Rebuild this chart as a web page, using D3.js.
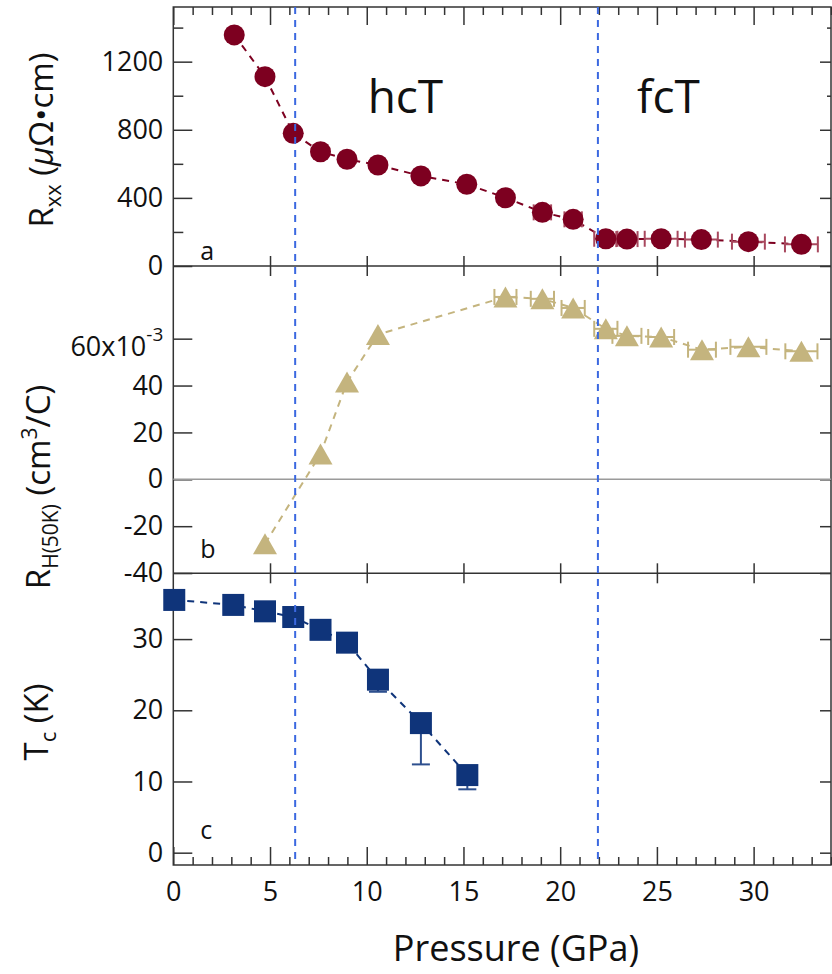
<!DOCTYPE html>
<meta charset="utf-8">
<style>
body { margin: 0; background: #fff; }
text { font-family: "Open Sans", sans-serif; fill: #111; }
.axis line { stroke: #333; stroke-width: 1.5; }
.axis text { font-size: 27px; font-family: "Open Sans", sans-serif; fill: #111; }
.frame { fill: none; stroke: #333; stroke-width: 1.5; }
</style>
<body>
<script src="https://cdn.jsdelivr.net/npm/d3@7"></script>
<script>

var width = 832,
    height = 974;

// panel a : R_xx (micro-ohm cm) vs pressure (GPa)
var pressureA = [3.15, 4.74, 6.2, 7.61, 8.98, 10.58, 12.8, 15.17, 17.17, 19.08, 20.67, 22.36, 23.45, 25.22, 27.3, 29.73, 32.47];
var rxx       = [1357, 1112, 779, 671, 627, 593, 529, 480, 401, 315, 274, 160, 158, 160, 155, 143, 127];
var rxxErrP   = [0, 0, 0, 0, 0, 0, 0, 0, 0, 0.45, 0.45, 0.6, 0.55, 0.85, 0.85, 0.85, 0.85];

// panel b : Hall coefficient at 50 K (1e-3 cm^3/C)
var pressureB = [4.74, 7.61, 8.98, 10.58, 17.17, 19.08, 20.67, 22.36, 23.45, 25.22, 27.33, 29.73, 32.47];
var hall      = [-27.5, 10.8, 41.5, 61.8, 77.8, 77, 73.1, 64.2, 61.2, 60.7, 55.3, 56.5, 54.6];
var hallErrP  = [0, 0, 0, 0, 0.57, 0.6, 0.6, 0.6, 0.75, 0.67, 0.72, 0.93, 0.83];

// panel c : Tc (K)
var pressureC = [0.05, 3.1, 4.74, 6.2, 7.61, 8.98, 10.58, 12.8, 15.2];
var tc        = [35.5, 34.8, 33.9, 33.1, 31.3, 29.5, 24.3, 18.2, 10.9];
var tcErrLow  = [0, 0, 0, 0, 0, 0, 1.7, 5.8, 2.0];

var phaseBoundaries = [6.3, 21.95];
var phaseNames = ["hcT", "fcT"];
var phaseNameP = [12.0, 25.6];

var pTicks = [0, 5, 10, 15, 20, 25, 30];
var rxxTicks = [0, 400, 800, 1200];
var rxxMinor = [200, 600, 1000, 1400];
var hallTicks = [-40, -20, 0, 20, 40, 60];
var tcTicks = [0, 10, 20, 30];

var maroon = "#7d0020",
    tan = "#c4b47e",
    navy = "#0f347a",
    blue = "#3b68e0";

var x = d3.scaleLinear().domain([0, 34]).range([173.3, 831]);
var pMinor = d3.range(0, 35).filter(function(d) { return d % 5 !== 0; });

var yA = d3.scaleLinear().domain([0, 1521]).range([266, 7]);
var yB = d3.scaleLinear().domain([-40.1, 91]).range([573.3, 266]);
var yC = d3.scaleLinear().domain([-1.73, 39.24]).range([865, 573.3]);

var svg = d3.select("body").append("svg")
    .attr("width", width)
    .attr("height", height);

function noDomain(g) { g.select(".domain").remove(); }

var x0 = x.range()[0], x1 = x.range()[1];

// ---- axes ----
function leftAxis(scale, ticks, fmt) {
  svg.append("g").attr("class", "axis left")
      .attr("transform", "translate(" + x0 + ",0)")
      .call(d3.axisLeft(scale).tickValues(ticks).tickSize(-19).tickPadding(10).tickFormat(fmt))
      .call(noDomain);
  svg.append("g").attr("class", "axis")
      .attr("transform", "translate(" + x1 + ",0)")
      .call(d3.axisRight(scale).tickValues(ticks).tickSize(-11).tickFormat(""))
      .call(noDomain)
      .call(function(g) { g.selectAll("text").remove(); });
}

leftAxis(yA, rxxTicks, d3.format("d"));
leftAxis(yB, hallTicks, function(d) { return d === 60 ? "60x10" : d; });
leftAxis(yC, tcTicks, d3.format("d"));

svg.append("g").attr("class", "axis")
    .attr("transform", "translate(" + x0 + ",0)")
    .call(d3.axisLeft(yA).tickValues(rxxMinor).tickSize(-10).tickFormat(""))
    .call(noDomain);
svg.append("g").attr("class", "axis")
    .attr("transform", "translate(" + x1 + ",0)")
    .call(d3.axisRight(yA).tickValues(rxxMinor).tickSize(-4).tickFormat(""))
    .call(noDomain);

// 60x10^-3 label
svg.selectAll(".left .tick text")
  .filter(function(d) { return d === 60; })
    .attr("dy", "0.62em")
  .append("tspan")
    .attr("dy", -15)
    .style("font-size", "19px")
    .text("-3");

// bottom axis
svg.append("g").attr("class", "axis")
    .attr("transform", "translate(0," + yC.range()[0] + ")")
    .call(d3.axisBottom(x).tickValues(pTicks).tickSize(-18).tickPadding(17))
    .call(noDomain);
svg.append("g").attr("class", "axis")
    .attr("transform", "translate(0," + yC.range()[0] + ")")
    .call(d3.axisBottom(x).tickValues(pMinor).tickSize(-8).tickFormat(""))
    .call(noDomain);

// top axis
svg.append("g").attr("class", "axis")
    .attr("transform", "translate(0," + yA.range()[1] + ")")
    .call(d3.axisTop(x).tickValues(pTicks).tickSize(-18).tickFormat(""))
    .call(noDomain);
svg.append("g").attr("class", "axis")
    .attr("transform", "translate(0," + yA.range()[1] + ")")
    .call(d3.axisTop(x).tickValues(pMinor).tickSize(-8).tickFormat(""))
    .call(noDomain);

// ticks crossing the panel boundaries
[yA.range()[0], yB.range()[0]].forEach(function(by) {
  svg.append("g").attr("class", "axis")
      .attr("transform", "translate(0," + (by - 10) + ")")
      .call(d3.axisBottom(x).tickValues(pTicks.filter(function(d) { return d > 0; })).tickSize(20).tickFormat(""))
      .call(noDomain);
});

// frame
svg.append("rect").attr("class", "frame")
    .attr("x", x0).attr("y", yA.range()[1])
    .attr("width", x1 - x0).attr("height", yC.range()[0] - yA.range()[1]);
[yA.range()[0], yB.range()[0]].forEach(function(by) {
  svg.append("line").attr("class", "frame")
      .attr("x1", x0).attr("x2", x1).attr("y1", by).attr("y2", by);
});

// zero line in panel b
svg.append("line")
    .attr("x1", x0).attr("x2", x1)
    .attr("y1", yB(0)).attr("y2", yB(0))
    .attr("stroke", "#9a9a9a").attr("stroke-width", 1.5);

// ---- data ----
function dashedLine(px, py, xs, ys, color) {
  var line = d3.line()
      .x(function(d, i) { return xs(px[i]); })
      .y(function(d, i) { return ys(py[i]); });
  svg.append("path")
      .datum(px)
      .attr("d", line)
      .attr("fill", "none")
      .attr("stroke", color)
      .attr("stroke-width", 2)
      .attr("stroke-dasharray", "7,6");
}

function hErrors(px, py, err, ys, color) {
  var g = svg.append("g").attr("stroke", color).attr("stroke-width", 2);
  px.forEach(function(p, i) {
    if (!err[i]) return;
    var yy = ys(py[i]), xl = x(p - err[i]), xr = x(p + err[i]);
    g.append("line").attr("x1", xl).attr("x2", xr).attr("y1", yy).attr("y2", yy);
    g.append("line").attr("x1", xl).attr("x2", xl).attr("y1", yy - 8).attr("y2", yy + 8);
    g.append("line").attr("x1", xr).attr("x2", xr).attr("y1", yy - 8).attr("y2", yy + 8);
  });
}

// panel a
dashedLine(pressureA, rxx, x, yA, maroon);
hErrors(pressureA, rxx, rxxErrP, yA, "#a8485e");
svg.append("g").selectAll("circle")
    .data(pressureA)
  .enter().append("circle")
    .attr("cx", function(d) { return x(d); })
    .attr("cy", function(d, i) { return yA(rxx[i]); })
    .attr("r", 10.5)
    .attr("fill", maroon);

// panel b
dashedLine(pressureB, hall, x, yB, tan);
hErrors(pressureB, hall, hallErrP, yB, tan);
var tw = 24, th = 21;
svg.append("g").selectAll("path")
    .data(pressureB)
  .enter().append("path")
    .attr("transform", function(d, i) { return "translate(" + x(d) + "," + yB(hall[i]) + ")"; })
    .attr("d", "M" + (-tw / 2) + "," + (th / 2) + "L0," + (-th / 2) + "L" + (tw / 2) + "," + (th / 2) + "Z")
    .attr("fill", tan);

// panel c
dashedLine(pressureC, tc, x, yC, navy);
var errC = svg.append("g").attr("stroke", "#2d4f8e").attr("stroke-width", 2);
pressureC.forEach(function(p, i) {
  if (!tcErrLow[i]) return;
  errC.append("line").attr("x1", x(p)).attr("x2", x(p)).attr("y1", yC(tc[i])).attr("y2", yC(tc[i] - tcErrLow[i]));
  errC.append("line").attr("x1", x(p) - 9).attr("x2", x(p) + 9).attr("y1", yC(tc[i] - tcErrLow[i])).attr("y2", yC(tc[i] - tcErrLow[i]));
});
var sq = 22;
svg.append("g").selectAll("rect")
    .data(pressureC)
  .enter().append("rect")
    .attr("x", function(d) { return x(d) - sq / 2; })
    .attr("y", function(d, i) { return yC(tc[i]) - sq / 2; })
    .attr("width", sq).attr("height", sq)
    .attr("fill", navy);

// phase boundaries
svg.append("g").selectAll("line")
    .data(phaseBoundaries)
  .enter().append("line")
    .attr("x1", function(d) { return x(d); })
    .attr("x2", function(d) { return x(d); })
    .attr("y1", yA.range()[1])
    .attr("y2", yC.range()[0])
    .attr("stroke", blue)
    .attr("stroke-width", 2)
    .attr("stroke-dasharray", "7,6");

// phase names
svg.append("g").selectAll("text")
    .data(phaseNames)
  .enter().append("text")
    .attr("x", function(d, i) { return x(phaseNameP[i]); })
    .attr("y", yA(900))
    .attr("text-anchor", "middle")
    .style("font-size", "46px")
    .text(function(d) { return d; });

// panel letters
[["a", yA.range()[0] - 6], ["b", yB.range()[0] - 15], ["c", yC(1.9)]].forEach(function(l) {
  svg.append("text")
      .attr("x", x0 + 27)
      .attr("y", l[1])
      .style("font-size", "25px")
      .text(l[0]);
});

// axis titles
function yTitle(cx, cy, parts) {
  var t = svg.append("text")
      .attr("transform", "translate(" + cx + "," + cy + ") rotate(-90)")
      .attr("text-anchor", "middle")
      .style("font-size", "33px");
  parts.forEach(function(p) {
    var s = t.append("tspan").text(p.t);
    if (p.dy) s.attr("dy", p.dy);
    if (p.size) s.style("font-size", p.size + "px");
    if (p.italic) s.style("font-style", "italic");
  });
}

yTitle(53, 140, [
  {t: "R"}, {t: "xx", size: 22, dy: 8}, {t: " (", dy: -8}, {t: "\u03bc", italic: true}, {t: "\u03a9\u2022cm)"}
]);
yTitle(50, 487, [
  {t: "R"}, {t: "H(50K)", size: 21, dy: 8}, {t: " (cm", dy: -8}, {t: "3", size: 21, dy: -13}, {t: "/C)", dy: 13}
]);
yTitle(48, 722, [
  {t: "T"}, {t: "c", size: 22, dy: 8}, {t: " (K)", dy: -8}
]);

svg.append("text")
    .attr("x", 516)
    .attr("y", 961)
    .attr("text-anchor", "middle")
    .style("font-size", "36px")
    .text("Pressure (GPa)");

</script>
